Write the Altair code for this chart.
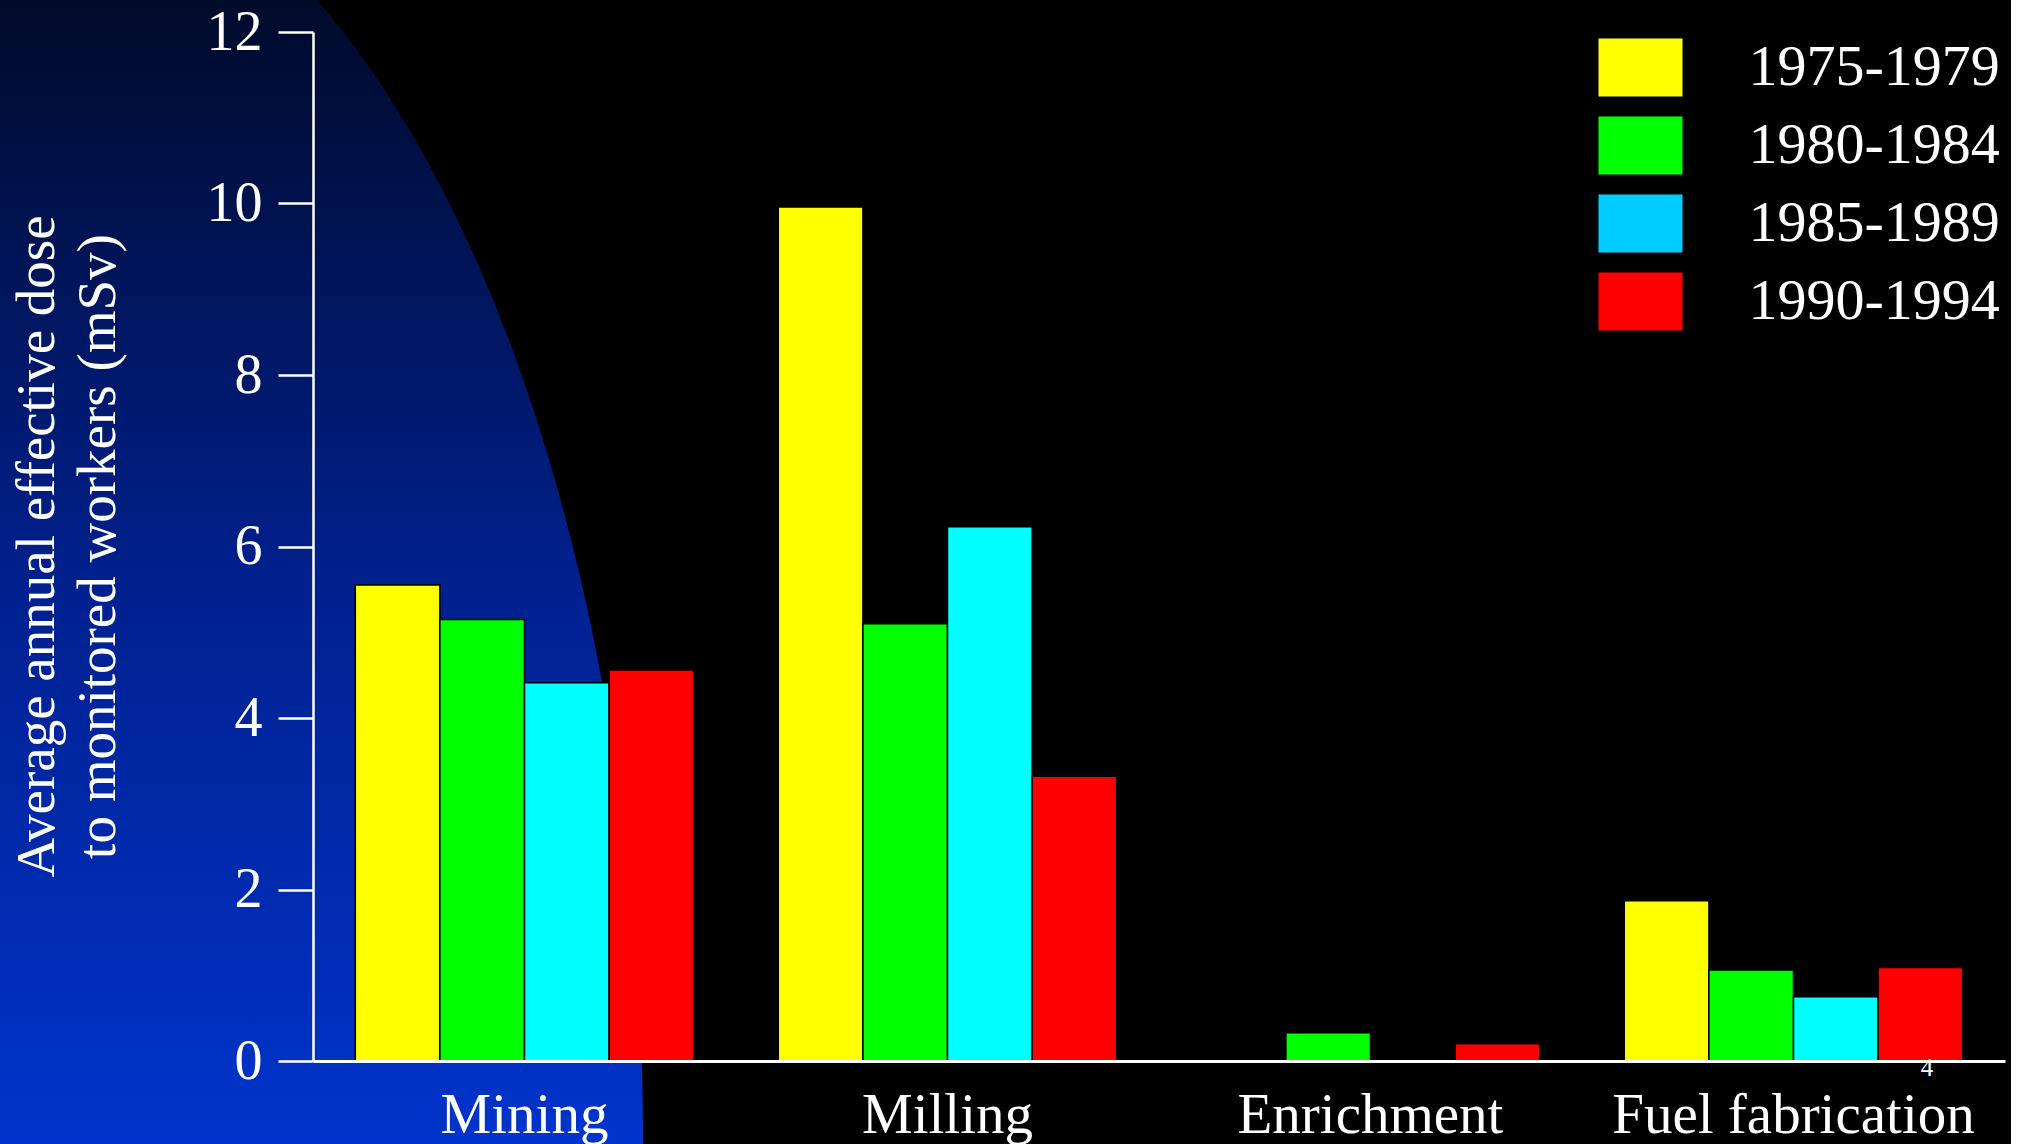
import altair as alt
import pandas as pd

# ---------------- data ----------------
stages = ["Mining", "Milling", "Enrichment", "Fuel fabrication"]
periods = ["1975-1979", "1980-1984", "1985-1989", "1990-1994"]
dose_1975_1979 = [5.55, 9.96, None, 1.87]
dose_1980_1984 = [5.15, 5.10, 0.33, 1.06]
dose_1985_1989 = [4.41, 6.23, None, 0.75]
dose_1990_1994 = [4.56, 3.32, 0.20, 1.09]
y_ticks = [0, 2, 4, 6, 8, 10, 12]
y_title = ["Average annual effective dose", "to monitored workers (mSv)"]
slide_number = ["4"]

# ---------------- styles ----------------
legend_colors = ["#FFFF00", "#00FF00", "#00CCFF", "#FF0000"]
bar_cyan = "#00FFFF"
serif = "Liberation Serif"
W, H = 1692, 1029
PAD_L, PAD_T, PAD_R, PAD_B = 313, 32, 6, 83
TOTAL_H = PAD_T + H + PAD_B

rows = []
for period, series in zip(periods, [dose_1975_1979, dose_1980_1984, dose_1985_1989, dose_1990_1994]):
    for stage, v in zip(stages, series):
        if v is not None:
            rows.append({"stage": stage, "period": period, "dose": v})
df = pd.DataFrame(rows)

# decorative slide-template background (blue gradient quarter-ellipse)
ell_a, ell_b = 643, 1315
bg = (
    alt.Chart(alt.sequence(0, TOTAL_H + 4, 4, as_="py"))
    .transform_calculate(
        y=f"datum.py - {PAD_T}",
        x0=f"-{PAD_L}",
        x1=f"{ell_a}*sqrt(max(0, 1 - pow(({TOTAL_H} - datum.py)/{ell_b}, 2))) - {PAD_L}",
    )
    .mark_area(
        orient="horizontal",
        strokeWidth=0,
        color=alt.Gradient(
            gradient="linear",
            stops=[
                alt.GradientStop(color="#000A2A", offset=0),
                alt.GradientStop(color="#00208C", offset=0.5),
                alt.GradientStop(color="#0034CC", offset=1),
            ],
            x1=0, x2=0, y1=0, y2=1,
        ),
    )
    .encode(
        y=alt.Y("y:Q", scale=None, axis=None),
        x=alt.X("x0:Q", scale=None, axis=None),
        x2=alt.X2("x1:Q"),
    )
)

bars = (
    alt.Chart(df)
    .mark_bar(stroke="black", strokeWidth=1.5)
    .encode(
        x=alt.X(
            "stage:N",
            sort=stages,
            scale=alt.Scale(domain=stages, paddingInner=0.2, paddingOuter=0.1),
            axis=alt.Axis(
                title=None, labelAngle=0, ticks=False, labelPadding=26,
                labelFont=serif, labelFontSize=57, labelColor="white", labelLimit=1000,
                domainColor="white", domainWidth=3, grid=False, zindex=1,
            ),
        ),
        xOffset=alt.XOffset(
            "period:N", sort=periods,
            scale=alt.Scale(domain=periods, paddingInner=0, paddingOuter=0),
        ),
        y=alt.Y(
            "dose:Q",
            scale=alt.Scale(domain=[0, 12], nice=False),
            axis=alt.Axis(
                values=y_ticks, grid=False, title=y_title, zindex=1,
                labelFont=serif, labelFontSize=56, labelColor="white", labelPadding=16,
                tickSize=35, tickWidth=2.5, tickColor="white",
                domainColor="white", domainWidth=2.5,
                titleFont=serif, titleFontSize=55, titleFontWeight="normal", titleColor="white",
                titleAngle=270, titleAlign="center", titleBaseline="top",
                titleLineHeight=61, titleX=-303, titleY=514,
            ),
        ),
        fill=alt.condition(
            alt.datum.period == periods[2],
            alt.value(bar_cyan),
            alt.Fill(
                "period:N",
                sort=periods,
                scale=alt.Scale(domain=periods, range=legend_colors),
                legend=alt.Legend(
                    title=None, orient="none", legendX=1298.5, legendY=6.5,
                    symbolType="M-1.448,-1H1.448V1H-1.448Z", symbolSize=3364,
                    symbolStrokeWidth=0, symbolOpacity=1,
                    labelFont=serif, labelFontSize=58, labelColor="white",
                    labelOffset=79, labelLimit=1000, rowPadding=20, padding=0,
                ),
            ),
        ),
    )
)

num = (
    alt.Chart(pd.DataFrame({"label": slide_number}))
    .mark_text(font="Liberation Sans Narrow", fontSize=25, color="white", baseline="middle")
    .encode(text="label:N", x=alt.value(1614), y=alt.value(1036))
)

chart = (
    alt.layer(bg, bars, num)
    .resolve_scale(x="independent", y="independent")
    .properties(
        width=W, height=H,
        padding={"left": PAD_L, "top": PAD_T, "right": PAD_R, "bottom": PAD_B},
        autosize=alt.AutoSizeParams(type="none"),
    )
    .configure(background="black")
    .configure_view(stroke=None)
)

chart.save("out.html", embed_options={"renderer": "svg", "actions": False})
